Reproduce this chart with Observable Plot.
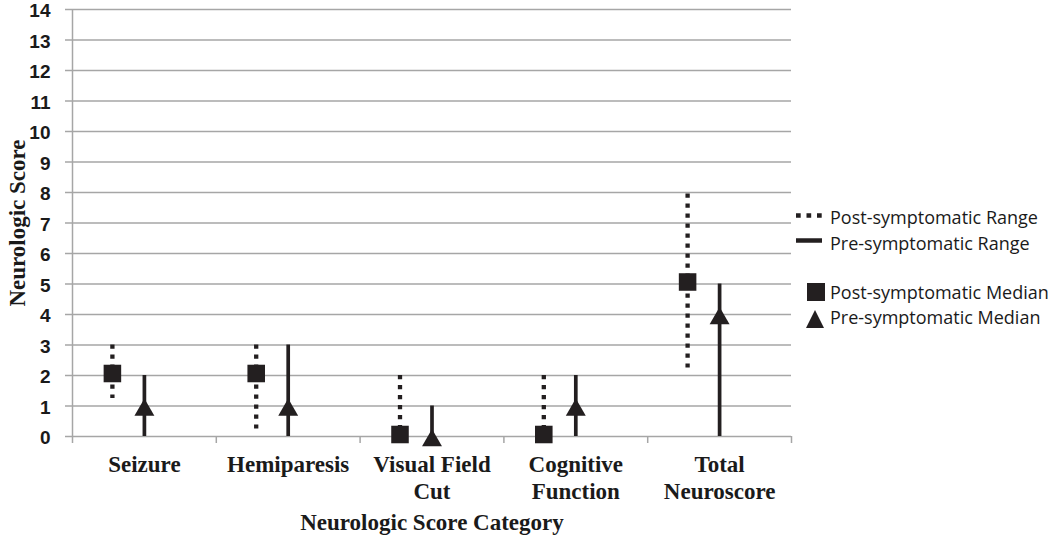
<!DOCTYPE html>
<html><head><meta charset="utf-8">
<script src="https://cdn.jsdelivr.net/npm/d3@7"></script>
<script src="https://cdn.jsdelivr.net/npm/@observablehq/plot@0.6"></script>
<style>
body{margin:0;background:#fff;}
#wrap{position:relative;width:1050px;height:536px;}
#legend{position:absolute;left:790px;top:200px;overflow:visible;}
#legend text{font-family:"Open Sans",sans-serif;font-size:18px;fill:#1a1a1a;}
</style></head><body><div id="wrap"></div>
<script>
const categories = ["Seizure", "Hemiparesis", "Visual Field\nCut", "Cognitive\nFunction", "Total\nNeuroscore"];
const postMedian = [2, 2, 0, 0, 5];
const preMedian = [1, 1, 0, 1, 4];
const postLow = [1.25, 0.25, 0, 0, 2.25];
const postHigh = [3, 3, 2, 2, 7.95];
const preLow = [0, 0, 0, 0, 0];
const preHigh = [2, 3, 1, 2, 5];
const yTicks = d3.range(0, 15);
const xTitle = "Neurologic Score Category";
const yTitle = "Neurologic Score";
const legendLabels = ["Post-symptomatic Range", "Pre-symptomatic Range", "Post-symptomatic Median", "Pre-symptomatic Median"];

const ink = "#231f20";
const grid = "#a6a6a6";
const serif = "'Liberation Serif', 'Times New Roman', serif";

const rows = categories.map((c, i) => ({
  c, pos: i + 0.5,
  postMedian: postMedian[i], preMedian: preMedian[i],
  postLow: postLow[i], postHigh: postHigh[i],
  preLow: preLow[i], preHigh: preHigh[i]
}));

const chart = Plot.plot({
  width: 1050, height: 536,
  marginLeft: 72, marginRight: 259, marginTop: 9, marginBottom: 100,
  style: {background: "#fff", overflow: "visible"},
  x: {domain: [0, categories.length]},
  y: {domain: [0, 14]},
  marks: [
    Plot.ruleY(yTicks, {stroke: grid, strokeWidth: 1.5}),
    Plot.ruleX([0], {stroke: grid, strokeWidth: 1.5}),
    Plot.axisY({ticks: yTicks, tickSize: 7, tickFormat: () => "", label: null, stroke: grid, strokeWidth: 1.5}),
    Plot.axisY({ticks: yTicks, tickSize: 0, tickPadding: 22, dy: 1.8, label: null, stroke: "none",
      fill: "#1a1a1a", fontSize: 19, fontWeight: "bold", fontFamily: "'Liberation Sans', Arial, sans-serif"}),
    Plot.axisX({ticks: d3.range(0, categories.length + 1), tickSize: 7, tickFormat: () => "", label: null,
      stroke: grid, strokeWidth: 1.5}),
    Plot.ruleX(rows, {x: "pos", y1: "postHigh", y2: "postLow", dx: -32, stroke: ink, strokeWidth: 4.3, strokeDasharray: "4.3,5.7"}),
    Plot.ruleX(rows, {x: "pos", y1: "preLow", y2: "preHigh", stroke: ink, strokeWidth: 3.7}),
    Plot.dot(rows, {x: "pos", y: "postMedian", dx: -32, dy: -2, symbol: "square", r: 9.9, fill: ink, stroke: null}),
    Plot.dot(rows, {x: "pos", y: "preMedian", dy: 4, symbol: "triangle", r: 7.4, fill: ink, stroke: null}),
    Plot.text(rows, {x: "pos", text: "c", frameAnchor: "bottom", lineAnchor: "top", dy: 16.5, lineHeight: 1.17,
      fontSize: 23, fontWeight: "bold", fontFamily: serif, fill: "#1a1a1a"}),
    Plot.text([xTitle], {frameAnchor: "bottom", lineAnchor: "top", dy: 77.5, fontSize: 23, fontWeight: "bold", fontFamily: serif, fill: "#1a1a1a"}),
    Plot.text([yTitle], {frameAnchor: "left", textAnchor: "middle", rotate: -90, dx: -55, lineAnchor: "middle", fontSize: 23, fontWeight: "bold", fontFamily: serif, fill: "#1a1a1a"})
  ]
});
const wrap = document.getElementById("wrap");
wrap.appendChild(chart);

// legend
const ns = "http://www.w3.org/2000/svg";
const lg = document.createElementNS(ns, "svg");
lg.setAttribute("id", "legend");
lg.setAttribute("width", 260);
lg.setAttribute("height", 140);
const sel = d3.select(lg);
sel.append("line").attr("x1", 6).attr("x2", 33).attr("y1", 15.5).attr("y2", 15.5)
  .attr("stroke", ink).attr("stroke-width", 4.6).attr("stroke-dasharray", "4.7,5.8");
sel.append("line").attr("x1", 6).attr("x2", 32).attr("y1", 40.5).attr("y2", 40.5)
  .attr("stroke", ink).attr("stroke-width", 4.5);
sel.append("rect").attr("x", 17).attr("y", 83).attr("width", 18).attr("height", 18).attr("fill", ink);
sel.append("path").attr("d", "M25,110 L34,128 L16,128 Z").attr("fill", ink);
const baselines = [23.5, 49.5, 99, 124];
legendLabels.forEach((t, i) => {
  sel.append("text").attr("x", 40).attr("y", baselines[i]).text(t);
});
wrap.appendChild(lg);
</script>
</body></html>
